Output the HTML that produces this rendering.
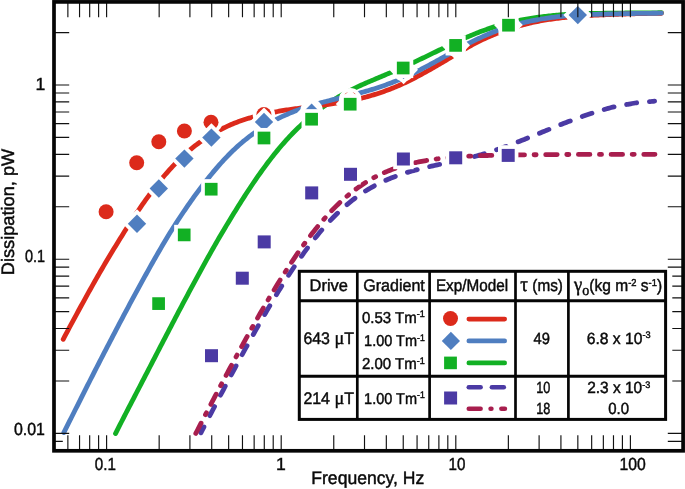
<!DOCTYPE html>
<html><head><meta charset="utf-8"><title>Dissipation vs Frequency</title>
<style>html,body{margin:0;padding:0;background:#fff;}body{width:685px;height:489px;overflow:hidden;position:relative;font-family:"Liberation Sans",sans-serif;}</style>
</head><body>
<svg width="685" height="489" viewBox="0 0 685 489" style="display:block;position:absolute;left:0;top:0;will-change:transform" text-rendering="geometricPrecision" font-family="'Liberation Sans', sans-serif" fill="#0a0a0a" stroke="#0a0a0a" stroke-width="0">
<rect width="685" height="489" fill="#fff"/>
<path d="M115.50,433.55 L117.00,430.59 L118.50,427.65 L120.00,424.71 L121.50,421.78 L123.00,418.85 L124.50,415.94 L126.00,413.02 L127.50,410.12 L129.00,407.22 L130.50,404.32 L132.00,401.43 L133.50,398.54 L135.00,395.65 L136.50,392.76 L138.00,389.88 L139.50,386.99 L141.00,384.10 L142.50,381.22 L143.99,378.33 L145.49,375.44 L146.99,372.54 L148.49,369.64 L149.99,366.74 L151.49,363.83 L152.99,360.93 L154.49,358.03 L155.99,355.13 L157.49,352.23 L158.99,349.34 L160.49,346.45 L161.99,343.55 L163.49,340.67 L164.99,337.78 L166.49,334.90 L167.99,332.02 L169.49,329.15 L170.99,326.28 L172.49,323.41 L173.99,320.55 L175.49,317.69 L176.99,314.84 L178.49,311.99 L179.99,309.15 L181.49,306.31 L182.99,303.48 L184.49,300.65 L185.99,297.83 L187.49,295.02 L188.99,292.21 L190.49,289.41 L191.99,286.62 L193.49,283.83 L194.99,281.06 L196.49,278.29 L197.98,275.53 L199.48,272.78 L200.98,270.04 L202.48,267.30 L203.98,264.58 L205.48,261.87 L206.98,259.17 L208.48,256.48 L209.98,253.80 L211.48,251.13 L212.98,248.49 L214.48,245.86 L215.98,243.24 L217.48,240.65 L218.98,238.07 L220.48,235.50 L221.98,232.95 L223.48,230.42 L224.98,227.90 L226.48,225.39 L227.98,222.90 L229.48,220.42 L230.98,217.95 L232.48,215.50 L233.98,213.06 L235.48,210.64 L236.98,208.22 L238.48,205.82 L239.98,203.43 L241.48,201.06 L242.98,198.70 L244.48,196.36 L245.98,194.04 L247.48,191.75 L248.98,189.47 L250.48,187.21 L251.97,184.97 L253.47,182.76 L254.97,180.56 L256.47,178.39 L257.97,176.24 L259.47,174.11 L260.97,172.00 L262.47,169.92 L263.97,167.85 L265.47,165.81 L266.97,163.80 L268.47,161.81 L269.97,159.84 L271.47,157.90 L272.97,155.98 L274.47,154.09 L275.97,152.22 L277.47,150.39 L278.97,148.58 L280.47,146.79 L281.97,145.04 L283.47,143.31 L284.97,141.61 L286.47,139.94 L287.97,138.30 L289.47,136.68 L290.97,135.09 L292.47,133.53 L293.97,132.00 L295.47,130.49 L296.97,129.01 L298.47,127.56 L299.97,126.14 L301.47,124.74 L302.97,123.36 L304.47,122.00 L305.97,120.67 L307.46,119.35 L308.96,118.06 L310.46,116.78 L311.96,115.53 L313.46,114.30 L314.96,113.10 L316.46,111.91 L317.96,110.75 L319.46,109.61 L320.96,108.49 L322.46,107.39 L323.96,106.32 L325.46,105.27 L326.96,104.24 L328.46,103.23 L329.96,102.25 L331.46,101.28 L332.96,100.33 L334.46,99.39 L335.96,98.47 L337.46,97.56 L338.96,96.67 L340.46,95.79 L341.96,94.92 L343.46,94.07 L344.96,93.24 L346.46,92.42 L347.96,91.61 L349.46,90.83 L350.96,90.05 L352.46,89.29 L353.96,88.55 L355.46,87.82 L356.96,87.10 L358.46,86.40 L359.96,85.72 L361.45,85.05 L362.95,84.38 L364.45,83.72 L365.95,83.06 L367.45,82.41 L368.95,81.77 L370.45,81.13 L371.95,80.49 L373.45,79.85 L374.95,79.22 L376.45,78.58 L377.95,77.95 L379.45,77.32 L380.95,76.69 L382.45,76.06 L383.95,75.43 L385.45,74.80 L386.95,74.16 L388.45,73.53 L389.95,72.89 L391.45,72.25 L392.95,71.61 L394.45,70.97 L395.95,70.32 L397.45,69.67 L398.95,69.02 L400.45,68.36 L401.95,67.70 L403.45,67.03 L404.95,66.36 L406.45,65.69 L407.95,65.01 L409.45,64.33 L410.95,63.65 L412.45,62.96 L413.95,62.26 L415.45,61.57 L416.94,60.87 L418.44,60.16 L419.94,59.45 L421.44,58.74 L422.94,58.03 L424.44,57.31 L425.94,56.59 L427.44,55.86 L428.94,55.14 L430.44,54.41 L431.94,53.68 L433.44,52.95 L434.94,52.22 L436.44,51.49 L437.94,50.76 L439.44,50.03 L440.94,49.30 L442.44,48.57 L443.94,47.84 L445.44,47.12 L446.94,46.39 L448.44,45.67 L449.94,44.95 L451.44,44.24 L452.94,43.53 L454.44,42.82 L455.94,42.12 L457.44,41.43 L458.94,40.74 L460.44,40.05 L461.94,39.38 L463.44,38.71 L464.94,38.04 L466.44,37.39 L467.94,36.74 L469.44,36.10 L470.93,35.47 L472.43,34.84 L473.93,34.23 L475.43,33.62 L476.93,33.03 L478.43,32.44 L479.93,31.86 L481.43,31.30 L482.93,30.74 L484.43,30.19 L485.93,29.66 L487.43,29.13 L488.93,28.62 L490.43,28.11 L491.93,27.62 L493.43,27.13 L494.93,26.66 L496.43,26.20 L497.93,25.75 L499.43,25.31 L500.93,24.88 L502.43,24.46 L503.93,24.05 L505.43,23.65 L506.93,23.26 L508.43,22.88 L509.93,22.51 L511.43,22.15 L512.93,21.80 L514.43,21.46 L515.93,21.13 L517.43,20.81 L518.93,20.50 L520.43,20.20 L521.93,19.90 L523.43,19.62 L524.92,19.34 L526.42,19.07 L527.92,18.81 L529.42,18.56 L530.92,18.32 L532.42,18.08 L533.92,17.85 L535.42,17.63 L536.92,17.41 L538.42,17.21 L539.92,17.01 L541.42,16.81 L542.92,16.62 L544.42,16.44 L545.92,16.27 L547.42,16.10 L548.92,15.93 L550.42,15.77 L551.92,15.62 L553.42,15.47 L554.92,15.33 L556.42,15.19 L557.92,15.06 L559.42,14.93 L560.92,14.81 L562.42,14.69 L563.92,14.58 L565.42,14.48 L566.92,14.38 L568.42,14.29 L569.92,14.20 L571.42,14.12 L572.92,14.05 L574.42,13.98 L575.92,13.91 L577.42,13.85 L578.92,13.79 L580.41,13.74 L581.91,13.69 L583.41,13.65 L584.91,13.60 L586.41,13.56 L587.91,13.53 L589.41,13.49 L590.91,13.46 L592.41,13.44 L593.91,13.41 L595.41,13.38 L596.91,13.36 L598.41,13.34 L599.91,13.32 L601.41,13.30 L602.91,13.28 L604.41,13.26 L605.91,13.25 L607.41,13.23 L608.91,13.21 L610.41,13.20 L611.91,13.18 L613.41,13.17 L614.91,13.15 L616.41,13.13 L617.91,13.11 L619.41,13.09 L620.91,13.07 L622.41,13.05 L623.91,13.03 L625.41,13.01 L626.91,12.99 L628.41,12.98 L629.91,12.96 L631.41,12.95 L632.91,12.93 L634.40,12.92 L635.90,12.91 L637.40,12.89 L638.90,12.88 L640.40,12.87 L641.90,12.86 L643.40,12.85 L644.90,12.84 L646.40,12.83 L647.90,12.82 L649.40,12.82 L650.90,12.81 L652.40,12.80 L653.90,12.79 L655.40,12.79 L656.90,12.78 L658.40,12.77 L659.90,12.77 L661.40,12.76" fill="none" stroke="#12b024" stroke-width="4.8" stroke-linecap="round" stroke-linejoin="round" />
<path d="M63.20,339.27 L64.70,336.42 L66.20,333.59 L67.70,330.77 L69.20,327.96 L70.70,325.16 L72.20,322.37 L73.69,319.58 L75.19,316.80 L76.69,314.03 L78.19,311.27 L79.69,308.52 L81.19,305.77 L82.69,303.03 L84.19,300.30 L85.69,297.58 L87.19,294.88 L88.69,292.18 L90.19,289.49 L91.69,286.82 L93.18,284.15 L94.68,281.50 L96.18,278.86 L97.68,276.23 L99.18,273.61 L100.68,271.01 L102.18,268.43 L103.68,265.87 L105.18,263.32 L106.68,260.79 L108.18,258.28 L109.68,255.78 L111.18,253.30 L112.68,250.82 L114.17,248.36 L115.67,245.90 L117.17,243.45 L118.67,241.00 L120.17,238.56 L121.67,236.14 L123.17,233.73 L124.67,231.34 L126.17,228.96 L127.67,226.61 L129.17,224.28 L130.67,221.97 L132.17,219.68 L133.66,217.41 L135.16,215.16 L136.66,212.94 L138.16,210.73 L139.66,208.55 L141.16,206.37 L142.66,204.22 L144.16,202.08 L145.66,199.97 L147.16,197.88 L148.66,195.81 L150.16,193.76 L151.66,191.74 L153.15,189.74 L154.65,187.77 L156.15,185.83 L157.65,183.92 L159.15,182.04 L160.65,180.19 L162.15,178.37 L163.65,176.57 L165.15,174.81 L166.65,173.07 L168.15,171.36 L169.65,169.68 L171.15,168.02 L172.65,166.40 L174.14,164.81 L175.64,163.25 L177.14,161.71 L178.64,160.21 L180.14,158.74 L181.64,157.30 L183.14,155.89 L184.64,154.51 L186.14,153.16 L187.64,151.85 L189.14,150.56 L190.64,149.30 L192.14,148.08 L193.63,146.88 L195.13,145.71 L196.63,144.57 L198.13,143.46 L199.63,142.37 L201.13,141.31 L202.63,140.27 L204.13,139.26 L205.63,138.27 L207.13,137.31 L208.63,136.37 L210.13,135.45 L211.63,134.55 L213.12,133.67 L214.62,132.81 L216.12,131.97 L217.62,131.14 L219.12,130.33 L220.62,129.54 L222.12,128.77 L223.62,128.02 L225.12,127.29 L226.62,126.57 L228.12,125.88 L229.62,125.21 L231.12,124.56 L232.62,123.93 L234.11,123.31 L235.61,122.72 L237.11,122.15 L238.61,121.60 L240.11,121.06 L241.61,120.53 L243.11,120.02 L244.61,119.53 L246.11,119.05 L247.61,118.58 L249.11,118.13 L250.61,117.69 L252.11,117.27 L253.60,116.85 L255.10,116.45 L256.60,116.06 L258.10,115.68 L259.60,115.31 L261.10,114.95 L262.60,114.60 L264.10,114.25 L265.60,113.92 L267.10,113.59 L268.60,113.26 L270.10,112.95 L271.60,112.64 L273.09,112.34 L274.59,112.05 L276.09,111.77 L277.59,111.49 L279.09,111.22 L280.59,110.96 L282.09,110.70 L283.59,110.46 L285.09,110.22 L286.59,109.99 L288.09,109.77 L289.59,109.56 L291.09,109.35 L292.58,109.15 L294.08,108.95 L295.58,108.75 L297.08,108.55 L298.58,108.35 L300.08,108.16 L301.58,107.97 L303.08,107.77 L304.58,107.58 L306.08,107.39 L307.58,107.20 L309.08,107.01 L310.58,106.81 L312.08,106.62 L313.57,106.43 L315.07,106.23 L316.57,106.03 L318.07,105.84 L319.57,105.63 L321.07,105.43 L322.57,105.23 L324.07,105.02 L325.57,104.81 L327.07,104.59 L328.57,104.37 L330.07,104.15 L331.57,103.92 L333.06,103.69 L334.56,103.46 L336.06,103.22 L337.56,102.97 L339.06,102.72 L340.56,102.46 L342.06,102.20 L343.56,101.93 L345.06,101.66 L346.56,101.37 L348.06,101.09 L349.56,100.79 L351.06,100.49 L352.55,100.17 L354.05,99.85 L355.55,99.53 L357.05,99.19 L358.55,98.84 L360.05,98.49 L361.55,98.13 L363.05,97.75 L364.55,97.37 L366.05,96.98 L367.55,96.57 L369.05,96.16 L370.55,95.73 L372.05,95.30 L373.54,94.85 L375.04,94.39 L376.54,93.93 L378.04,93.45 L379.54,92.95 L381.04,92.45 L382.54,91.93 L384.04,91.40 L385.54,90.86 L387.04,90.31 L388.54,89.74 L390.04,89.17 L391.54,88.58 L393.03,87.97 L394.53,87.36 L396.03,86.73 L397.53,86.09 L399.03,85.44 L400.53,84.78 L402.03,84.10 L403.53,83.41 L405.03,82.71 L406.53,82.00 L408.03,81.28 L409.53,80.55 L411.03,79.80 L412.52,79.05 L414.02,78.28 L415.52,77.51 L417.02,76.72 L418.52,75.93 L420.02,75.12 L421.52,74.31 L423.02,73.50 L424.52,72.67 L426.02,71.84 L427.52,71.00 L429.02,70.15 L430.52,69.30 L432.02,68.44 L433.51,67.58 L435.01,66.72 L436.51,65.85 L438.01,64.98 L439.51,64.11 L441.01,63.24 L442.51,62.36 L444.01,61.47 L445.51,60.57 L447.01,59.67 L448.51,58.77 L450.01,57.86 L451.51,56.96 L453.00,56.05 L454.50,55.14 L456.00,54.24 L457.50,53.34 L459.00,52.44 L460.50,51.55 L462.00,50.66 L463.50,49.79 L465.00,48.92 L466.50,48.06 L468.00,47.21 L469.50,46.37 L471.00,45.54 L472.49,44.73 L473.99,43.93 L475.49,43.14 L476.99,42.37 L478.49,41.62 L479.99,40.88 L481.49,40.16 L482.99,39.45 L484.49,38.75 L485.99,38.06 L487.49,37.38 L488.99,36.72 L490.49,36.06 L491.98,35.42 L493.48,34.80 L494.98,34.18 L496.48,33.58 L497.98,32.98 L499.48,32.41 L500.98,31.84 L502.48,31.28 L503.98,30.74 L505.48,30.21 L506.98,29.69 L508.48,29.18 L509.98,28.68 L511.48,28.20 L512.97,27.72 L514.47,27.26 L515.97,26.81 L517.47,26.37 L518.97,25.94 L520.47,25.52 L521.97,25.11 L523.47,24.71 L524.97,24.32 L526.47,23.94 L527.97,23.57 L529.47,23.21 L530.97,22.86 L532.46,22.52 L533.96,22.19 L535.46,21.88 L536.96,21.58 L538.46,21.28 L539.96,21.00 L541.46,20.72 L542.96,20.46 L544.46,20.21 L545.96,19.96 L547.46,19.72 L548.96,19.49 L550.46,19.27 L551.95,19.05 L553.45,18.85 L554.95,18.65 L556.45,18.45 L557.95,18.27 L559.45,18.08 L560.95,17.91 L562.45,17.73 L563.95,17.57 L565.45,17.41 L566.95,17.25 L568.45,17.10 L569.95,16.95 L571.45,16.80 L572.94,16.66 L574.44,16.53 L575.94,16.40 L577.44,16.28 L578.94,16.16 L580.44,16.04 L581.94,15.94 L583.44,15.83 L584.94,15.73 L586.44,15.64 L587.94,15.54 L589.44,15.45 L590.94,15.37 L592.43,15.29 L593.93,15.21 L595.43,15.13 L596.93,15.06 L598.43,14.99 L599.93,14.92 L601.43,14.86 L602.93,14.80 L604.43,14.73 L605.93,14.67 L607.43,14.62 L608.93,14.56 L610.43,14.50 L611.92,14.45 L613.42,14.39 L614.92,14.34 L616.42,14.29 L617.92,14.23 L619.42,14.18 L620.92,14.13 L622.42,14.08 L623.92,14.03 L625.42,13.98 L626.92,13.94 L628.42,13.90 L629.92,13.85 L631.42,13.81 L632.91,13.78 L634.41,13.74 L635.91,13.70 L637.41,13.67 L638.91,13.64 L640.41,13.60 L641.91,13.57 L643.41,13.55 L644.91,13.52 L646.41,13.49 L647.91,13.46 L649.41,13.44 L650.91,13.41 L652.40,13.39 L653.90,13.37 L655.40,13.35 L656.90,13.33 L658.40,13.31 L659.90,13.29 L661.40,13.27" fill="none" stroke="#dc2a1b" stroke-width="4.8" stroke-linecap="round" stroke-linejoin="round" />
<path d="M63.80,432.55 L65.30,429.60 L66.80,426.64 L68.29,423.67 L69.79,420.70 L71.29,417.73 L72.79,414.75 L74.28,411.77 L75.78,408.79 L77.28,405.80 L78.78,402.82 L80.28,399.84 L81.77,396.85 L83.27,393.87 L84.77,390.89 L86.27,387.92 L87.76,384.94 L89.26,381.98 L90.76,379.01 L92.26,376.06 L93.75,373.11 L95.25,370.17 L96.75,367.24 L98.25,364.31 L99.75,361.40 L101.24,358.49 L102.74,355.59 L104.24,352.69 L105.74,349.80 L107.23,346.91 L108.73,344.03 L110.23,341.15 L111.73,338.27 L113.23,335.40 L114.72,332.54 L116.22,329.68 L117.72,326.83 L119.22,323.98 L120.71,321.14 L122.21,318.30 L123.71,315.47 L125.21,312.65 L126.71,309.83 L128.20,307.03 L129.70,304.22 L131.20,301.43 L132.70,298.65 L134.19,295.87 L135.69,293.10 L137.19,290.34 L138.69,287.59 L140.18,284.85 L141.68,282.11 L143.18,279.39 L144.68,276.68 L146.18,273.98 L147.67,271.29 L149.17,268.61 L150.67,265.94 L152.17,263.28 L153.66,260.64 L155.16,258.01 L156.66,255.39 L158.16,252.78 L159.66,250.19 L161.15,247.62 L162.65,245.05 L164.15,242.51 L165.65,239.98 L167.14,237.48 L168.64,235.01 L170.14,232.57 L171.64,230.16 L173.14,227.78 L174.63,225.42 L176.13,223.09 L177.63,220.78 L179.13,218.50 L180.62,216.24 L182.12,214.00 L183.62,211.77 L185.12,209.57 L186.62,207.38 L188.11,205.21 L189.61,203.05 L191.11,200.90 L192.61,198.79 L194.10,196.70 L195.60,194.63 L197.10,192.60 L198.60,190.58 L200.09,188.59 L201.59,186.62 L203.09,184.68 L204.59,182.76 L206.09,180.86 L207.58,178.98 L209.08,177.12 L210.58,175.28 L212.08,173.46 L213.57,171.65 L215.07,169.87 L216.57,168.11 L218.07,166.37 L219.57,164.66 L221.06,162.98 L222.56,161.33 L224.06,159.71 L225.56,158.12 L227.05,156.55 L228.55,155.01 L230.05,153.51 L231.55,152.03 L233.05,150.58 L234.54,149.15 L236.04,147.76 L237.54,146.39 L239.04,145.06 L240.53,143.75 L242.03,142.47 L243.53,141.21 L245.03,139.99 L246.52,138.79 L248.02,137.62 L249.52,136.47 L251.02,135.35 L252.52,134.25 L254.01,133.17 L255.51,132.10 L257.01,131.06 L258.51,130.04 L260.00,129.04 L261.50,128.05 L263.00,127.09 L264.50,126.15 L266.00,125.23 L267.49,124.33 L268.99,123.45 L270.49,122.59 L271.99,121.75 L273.48,120.93 L274.98,120.13 L276.48,119.35 L277.98,118.60 L279.48,117.86 L280.97,117.14 L282.47,116.44 L283.97,115.76 L285.47,115.08 L286.96,114.43 L288.46,113.78 L289.96,113.15 L291.46,112.54 L292.95,111.93 L294.45,111.35 L295.95,110.77 L297.45,110.21 L298.95,109.66 L300.44,109.12 L301.94,108.59 L303.44,108.08 L304.94,107.58 L306.43,107.09 L307.93,106.61 L309.43,106.15 L310.93,105.69 L312.43,105.25 L313.92,104.80 L315.42,104.37 L316.92,103.94 L318.42,103.52 L319.91,103.10 L321.41,102.69 L322.91,102.28 L324.41,101.88 L325.91,101.48 L327.40,101.09 L328.90,100.70 L330.40,100.32 L331.90,99.94 L333.39,99.56 L334.89,99.19 L336.39,98.82 L337.89,98.46 L339.38,98.10 L340.88,97.74 L342.38,97.38 L343.88,97.02 L345.38,96.66 L346.87,96.29 L348.37,95.92 L349.87,95.55 L351.37,95.18 L352.86,94.80 L354.36,94.42 L355.86,94.03 L357.36,93.64 L358.86,93.25 L360.35,92.84 L361.85,92.44 L363.35,92.02 L364.85,91.60 L366.34,91.18 L367.84,90.74 L369.34,90.30 L370.84,89.86 L372.34,89.40 L373.83,88.94 L375.33,88.46 L376.83,87.98 L378.33,87.49 L379.82,87.00 L381.32,86.49 L382.82,85.97 L384.32,85.44 L385.82,84.91 L387.31,84.36 L388.81,83.81 L390.31,83.24 L391.81,82.66 L393.30,82.08 L394.80,81.48 L396.30,80.87 L397.80,80.26 L399.29,79.63 L400.79,78.99 L402.29,78.34 L403.79,77.68 L405.29,77.01 L406.78,76.33 L408.28,75.64 L409.78,74.94 L411.28,74.23 L412.77,73.51 L414.27,72.78 L415.77,72.05 L417.27,71.30 L418.77,70.54 L420.26,69.78 L421.76,69.01 L423.26,68.23 L424.76,67.44 L426.25,66.65 L427.75,65.85 L429.25,65.05 L430.75,64.23 L432.25,63.42 L433.74,62.60 L435.24,61.77 L436.74,60.94 L438.24,60.11 L439.73,59.28 L441.23,58.44 L442.73,57.60 L444.23,56.77 L445.72,55.93 L447.22,55.09 L448.72,54.25 L450.22,53.42 L451.72,52.58 L453.21,51.75 L454.71,50.92 L456.21,50.10 L457.71,49.28 L459.20,48.46 L460.70,47.65 L462.20,46.84 L463.70,46.04 L465.20,45.25 L466.69,44.47 L468.19,43.69 L469.69,42.92 L471.19,42.16 L472.68,41.41 L474.18,40.67 L475.68,39.93 L477.18,39.21 L478.68,38.50 L480.17,37.80 L481.67,37.10 L483.17,36.42 L484.67,35.75 L486.16,35.10 L487.66,34.45 L489.16,33.82 L490.66,33.20 L492.15,32.59 L493.65,31.99 L495.15,31.40 L496.65,30.83 L498.15,30.27 L499.64,29.72 L501.14,29.18 L502.64,28.66 L504.14,28.15 L505.63,27.65 L507.13,27.16 L508.63,26.69 L510.13,26.22 L511.63,25.77 L513.12,25.33 L514.62,24.91 L516.12,24.49 L517.62,24.08 L519.11,23.69 L520.61,23.31 L522.11,22.93 L523.61,22.57 L525.11,22.22 L526.60,21.88 L528.10,21.55 L529.60,21.23 L531.10,20.92 L532.59,20.62 L534.09,20.32 L535.59,20.04 L537.09,19.77 L538.58,19.50 L540.08,19.24 L541.58,18.99 L543.08,18.75 L544.58,18.52 L546.07,18.29 L547.57,18.08 L549.07,17.87 L550.57,17.66 L552.06,17.46 L553.56,17.27 L555.06,17.09 L556.56,16.91 L558.06,16.74 L559.55,16.57 L561.05,16.42 L562.55,16.26 L564.05,16.12 L565.54,15.98 L567.04,15.85 L568.54,15.73 L570.04,15.61 L571.54,15.49 L573.03,15.39 L574.53,15.29 L576.03,15.19 L577.53,15.10 L579.02,15.01 L580.52,14.93 L582.02,14.86 L583.52,14.78 L585.02,14.71 L586.51,14.65 L588.01,14.59 L589.51,14.53 L591.01,14.47 L592.50,14.42 L594.00,14.37 L595.50,14.32 L597.00,14.28 L598.49,14.23 L599.99,14.19 L601.49,14.15 L602.99,14.12 L604.49,14.08 L605.98,14.04 L607.48,14.01 L608.98,13.98 L610.48,13.94 L611.97,13.91 L613.47,13.88 L614.97,13.85 L616.47,13.81 L617.97,13.78 L619.46,13.75 L620.96,13.72 L622.46,13.69 L623.96,13.66 L625.45,13.63 L626.95,13.60 L628.45,13.57 L629.95,13.55 L631.45,13.52 L632.94,13.50 L634.44,13.48 L635.94,13.46 L637.44,13.44 L638.93,13.42 L640.43,13.40 L641.93,13.38 L643.43,13.36 L644.92,13.34 L646.42,13.33 L647.92,13.31 L649.42,13.30 L650.92,13.28 L652.41,13.27 L653.91,13.26 L655.41,13.24 L656.91,13.23 L658.40,13.22 L659.90,13.21 L661.40,13.20" fill="none" stroke="#4f7ec0" stroke-width="4.8" stroke-linecap="round" stroke-linejoin="round" />
<path d="M200.90,432.86 L202.40,429.96 L203.89,427.07 L205.39,424.17 L206.89,421.28 L208.39,418.39 L209.88,415.51 L211.38,412.63 L212.88,409.76 L214.38,406.89 L215.87,404.02 L217.37,401.16 L218.87,398.30 L220.37,395.45 L221.86,392.61 L223.36,389.77 L224.86,386.93 L226.36,384.10 L227.85,381.28 L229.35,378.46 L230.85,375.65 L232.34,372.85 L233.84,370.05 L235.34,367.27 L236.84,364.48 L238.33,361.71 L239.83,358.94 L241.33,356.19 L242.83,353.44 L244.32,350.70 L245.82,347.96 L247.32,345.24 L248.82,342.53 L250.31,339.83 L251.81,337.14 L253.31,334.46 L254.80,331.79 L256.30,329.13 L257.80,326.48 L259.30,323.84 L260.79,321.22 L262.29,318.61 L263.79,316.02 L265.29,313.43 L266.78,310.86 L268.28,308.31 L269.78,305.77 L271.28,303.25 L272.77,300.74 L274.27,298.24 L275.77,295.77 L277.27,293.31 L278.76,290.87 L280.26,288.44 L281.76,286.04 L283.25,283.65 L284.75,281.28 L286.25,278.93 L287.75,276.61 L289.24,274.30 L290.74,272.01 L292.24,269.75 L293.74,267.50 L295.23,265.28 L296.73,263.08 L298.23,260.91 L299.73,258.75 L301.22,256.62 L302.72,254.52 L304.22,252.44 L305.72,250.39 L307.21,248.36 L308.71,246.35 L310.21,244.38 L311.70,242.42 L313.20,240.50 L314.70,238.60 L316.20,236.73 L317.69,234.89 L319.19,233.08 L320.69,231.29 L322.19,229.53 L323.68,227.80 L325.18,226.10 L326.68,224.43 L328.18,222.78 L329.67,221.17 L331.17,219.58 L332.67,218.03 L334.17,216.50 L335.66,215.00 L337.16,213.53 L338.66,212.09 L340.15,210.68 L341.65,209.29 L343.15,207.94 L344.65,206.62 L346.14,205.32 L347.64,204.05 L349.14,202.81 L350.64,201.60 L352.13,200.41 L353.63,199.25 L355.13,198.12 L356.63,197.02 L358.12,195.94 L359.62,194.89 L361.12,193.86 L362.61,192.86 L364.11,191.88 L365.61,190.93 L367.11,190.00 L368.60,189.10 L370.10,188.22 L371.60,187.36 L373.10,186.53 L374.59,185.71 L376.09,184.92 L377.59,184.15 L379.09,183.40 L380.58,182.67 L382.08,181.96 L383.58,181.27 L385.08,180.59 L386.57,179.94 L388.07,179.30 L389.57,178.68 L391.06,178.07 L392.56,177.48 L394.06,176.91 L395.56,176.35 L397.05,175.81 L398.55,175.28 L400.05,174.76 L401.55,174.25 L403.04,173.76 L404.54,173.28 L406.04,172.82 L407.54,172.36 L409.03,171.91 L410.53,171.48 L412.03,171.05 L413.53,170.63 L415.02,170.22 L416.52,169.82 L418.02,169.43 L419.51,169.04 L421.01,168.66 L422.51,168.29 L424.01,167.93 L425.50,167.57 L427.00,167.21 L428.50,166.86 L430.00,166.51 L431.49,166.17 L432.99,165.83 L434.49,165.50 L435.99,165.16 L437.48,164.83 L438.98,164.51 L440.48,164.18 L441.97,163.86 L443.47,163.53 L444.97,163.21 L446.47,162.89 L447.96,162.56 L449.46,162.24 L450.96,161.92 L452.46,161.59 L453.95,161.26 L455.45,160.94 L456.95,160.61 L458.45,160.28 L459.94,159.94 L461.44,159.60 L462.94,159.26 L464.44,158.92 L465.93,158.58 L467.43,158.23 L468.93,157.87 L470.42,157.51 L471.92,157.15 L473.42,156.77 L474.92,156.38 L476.41,155.99 L477.91,155.58 L479.41,155.17 L480.91,154.75 L482.40,154.31 L483.90,153.87 L485.40,153.42 L486.90,152.96 L488.39,152.50 L489.89,152.02 L491.39,151.54 L492.89,151.05 L494.38,150.55 L495.88,150.04 L497.38,149.53 L498.87,149.01 L500.37,148.48 L501.87,147.94 L503.37,147.40 L504.86,146.86 L506.36,146.31 L507.86,145.75 L509.36,145.19 L510.85,144.63 L512.35,144.06 L513.85,143.48 L515.35,142.91 L516.84,142.33 L518.34,141.75 L519.84,141.17 L521.33,140.59 L522.83,140.00 L524.33,139.40 L525.83,138.81 L527.32,138.21 L528.82,137.60 L530.32,137.00 L531.82,136.39 L533.31,135.78 L534.81,135.16 L536.31,134.55 L537.81,133.93 L539.30,133.32 L540.80,132.70 L542.30,132.08 L543.80,131.47 L545.29,130.85 L546.79,130.23 L548.29,129.62 L549.78,129.01 L551.28,128.39 L552.78,127.78 L554.28,127.18 L555.77,126.57 L557.27,125.97 L558.77,125.37 L560.27,124.78 L561.76,124.18 L563.26,123.59 L564.76,123.01 L566.26,122.43 L567.75,121.85 L569.25,121.28 L570.75,120.71 L572.25,120.15 L573.74,119.59 L575.24,119.04 L576.74,118.49 L578.23,117.94 L579.73,117.40 L581.23,116.86 L582.73,116.33 L584.22,115.81 L585.72,115.29 L587.22,114.79 L588.72,114.30 L590.21,113.81 L591.71,113.33 L593.21,112.85 L594.71,112.38 L596.20,111.91 L597.70,111.45 L599.20,111.00 L600.70,110.54 L602.19,110.10 L603.69,109.66 L605.19,109.22 L606.68,108.79 L608.18,108.36 L609.68,107.94 L611.18,107.54 L612.67,107.17 L614.17,106.83 L615.67,106.50 L617.17,106.19 L618.66,105.89 L620.16,105.61 L621.66,105.34 L623.16,105.07 L624.65,104.81 L626.15,104.56 L627.65,104.30 L629.14,104.04 L630.64,103.78 L632.14,103.51 L633.64,103.25 L635.13,103.00 L636.63,102.76 L638.13,102.53 L639.63,102.31 L641.12,102.13 L642.62,101.99 L644.12,101.88 L645.62,101.80 L647.11,101.73 L648.61,101.65 L650.11,101.57 L651.61,101.46 L653.10,101.31 L654.60,101.11" fill="none" stroke="#4b3aa4" stroke-width="4.8" stroke-linecap="round" stroke-linejoin="round" stroke-dasharray="10.2 12.8" stroke-dashoffset="3.6"/>
<path d="M195.80,433.40 L197.30,430.50 L198.79,427.60 L200.29,424.70 L201.78,421.81 L203.28,418.92 L204.77,416.04 L206.27,413.16 L207.77,410.28 L209.26,407.40 L210.76,404.54 L212.25,401.67 L213.75,398.81 L215.24,395.95 L216.74,393.10 L218.24,390.26 L219.73,387.42 L221.23,384.58 L222.72,381.75 L224.22,378.93 L225.72,376.11 L227.21,373.30 L228.71,370.50 L230.20,367.70 L231.70,364.91 L233.19,362.13 L234.69,359.35 L236.19,356.58 L237.68,353.82 L239.18,351.07 L240.67,348.32 L242.17,345.59 L243.66,342.86 L245.16,340.14 L246.66,337.43 L248.15,334.73 L249.65,332.05 L251.14,329.37 L252.64,326.70 L254.13,324.05 L255.63,321.40 L257.13,318.77 L258.62,316.15 L260.12,313.54 L261.61,310.94 L263.11,308.36 L264.61,305.79 L266.10,303.24 L267.60,300.70 L269.09,298.17 L270.59,295.66 L272.08,293.16 L273.58,290.68 L275.08,288.22 L276.57,285.77 L278.07,283.34 L279.56,280.93 L281.06,278.53 L282.55,276.16 L284.05,273.80 L285.55,271.46 L287.04,269.14 L288.54,266.84 L290.03,264.56 L291.53,262.30 L293.02,260.06 L294.52,257.85 L296.02,255.65 L297.51,253.48 L299.01,251.33 L300.50,249.20 L302.00,247.10 L303.50,245.02 L304.99,242.96 L306.49,240.93 L307.98,238.93 L309.48,236.95 L310.97,234.99 L312.47,233.06 L313.97,231.16 L315.46,229.28 L316.96,227.43 L318.45,225.61 L319.95,223.81 L321.44,222.04 L322.94,220.30 L324.44,218.59 L325.93,216.90 L327.43,215.25 L328.92,213.62 L330.42,212.02 L331.91,210.45 L333.41,208.90 L334.91,207.39 L336.40,205.90 L337.90,204.44 L339.39,203.01 L340.89,201.61 L342.39,200.24 L343.88,198.90 L345.38,197.58 L346.87,196.30 L348.37,195.04 L349.86,193.81 L351.36,192.60 L352.86,191.43 L354.35,190.28 L355.85,189.16 L357.34,188.07 L358.84,187.00 L360.33,185.96 L361.83,184.94 L363.33,183.95 L364.82,182.99 L366.32,182.05 L367.81,181.14 L369.31,180.25 L370.80,179.39 L372.30,178.55 L373.80,177.73 L375.29,176.93 L376.79,176.16 L378.28,175.41 L379.78,174.68 L381.27,173.97 L382.77,173.29 L384.27,172.62 L385.76,171.97 L387.26,171.35 L388.75,170.74 L390.25,170.15 L391.75,169.58 L393.24,169.03 L394.74,168.49 L396.23,167.97 L397.73,167.47 L399.22,166.99 L400.72,166.52 L402.22,166.06 L403.71,165.62 L405.21,165.20 L406.70,164.79 L408.20,164.39 L409.69,164.00 L411.19,163.63 L412.69,163.27 L414.18,162.93 L415.68,162.59 L417.17,162.27 L418.67,161.96 L420.16,161.66 L421.66,161.37 L423.16,161.09 L424.65,160.82 L426.15,160.55 L427.64,160.30 L429.14,160.06 L430.64,159.82 L432.13,159.60 L433.63,159.38 L435.12,159.17 L436.62,158.97 L438.11,158.77 L439.61,158.58 L441.11,158.40 L442.60,158.23 L444.10,158.06 L445.59,157.90 L447.09,157.74 L448.58,157.59 L450.08,157.45 L451.58,157.31 L453.07,157.17 L454.57,157.05 L456.06,156.93 L457.56,156.82 L459.05,156.71 L460.55,156.61 L462.05,156.51 L463.54,156.42 L465.04,156.33 L466.53,156.25 L468.03,156.17 L469.53,156.10 L471.02,156.03 L472.52,155.96 L474.01,155.90 L475.51,155.84 L477.00,155.78 L478.50,155.73 L480.00,155.68 L481.49,155.64 L482.99,155.59 L484.48,155.55 L485.98,155.51 L487.47,155.48 L488.97,155.44 L490.47,155.41 L491.96,155.38 L493.46,155.35 L494.95,155.32 L496.45,155.29 L497.94,155.27 L499.44,155.24 L500.94,155.22 L502.43,155.20 L503.93,155.17 L505.42,155.15 L506.92,155.13 L508.41,155.11 L509.91,155.09 L511.41,155.07 L512.90,155.05 L514.40,155.02 L515.89,155.00 L517.39,154.98 L518.89,154.96 L520.38,154.93 L521.88,154.91 L523.37,154.89 L524.87,154.87 L526.36,154.85 L527.86,154.83 L529.36,154.81 L530.85,154.79 L532.35,154.77 L533.84,154.76 L535.34,154.74 L536.83,154.73 L538.33,154.71 L539.83,154.70 L541.32,154.68 L542.82,154.67 L544.31,154.66 L545.81,154.65 L547.30,154.63 L548.80,154.62 L550.30,154.61 L551.79,154.60 L553.29,154.59 L554.78,154.58 L556.28,154.57 L557.78,154.56 L559.27,154.55 L560.77,154.55 L562.26,154.54 L563.76,154.53 L565.25,154.52 L566.75,154.52 L568.25,154.51 L569.74,154.50 L571.24,154.50 L572.73,154.49 L574.23,154.49 L575.72,154.48 L577.22,154.47 L578.72,154.47 L580.21,154.46 L581.71,154.46 L583.20,154.46 L584.70,154.45 L586.19,154.45 L587.69,154.44 L589.19,154.44 L590.68,154.44 L592.18,154.43 L593.67,154.43 L595.17,154.42 L596.67,154.42 L598.16,154.42 L599.66,154.42 L601.15,154.41 L602.65,154.41 L604.14,154.41 L605.64,154.40 L607.14,154.40 L608.63,154.40 L610.13,154.40 L611.62,154.40 L613.12,154.39 L614.61,154.39 L616.11,154.39 L617.61,154.39 L619.10,154.39 L620.60,154.38 L622.09,154.38 L623.59,154.38 L625.08,154.38 L626.58,154.38 L628.08,154.38 L629.57,154.38 L631.07,154.37 L632.56,154.37 L634.06,154.37 L635.56,154.37 L637.05,154.37 L638.55,154.37 L640.04,154.37 L641.54,154.37 L643.03,154.37 L644.53,154.36 L646.03,154.36 L647.52,154.36 L649.02,154.36 L650.51,154.36 L652.01,154.36 L653.50,154.36 L655.00,154.36" fill="none" stroke="#a81e4e" stroke-width="4.8" stroke-linecap="round" stroke-linejoin="round" stroke-dasharray="11.5 9.55 2.1 9.55" stroke-dashoffset="0.0"/>
<rect x="201.30" y="345.50" width="20.40" height="20.40" fill="#fff"/>
<rect x="205.00" y="349.20" width="13.00" height="13.00" fill="#4b3aa4"/>
<rect x="232.10" y="268.00" width="20.40" height="20.40" fill="#fff"/>
<rect x="235.80" y="271.70" width="13.00" height="13.00" fill="#4b3aa4"/>
<rect x="254.00" y="231.70" width="20.40" height="20.40" fill="#fff"/>
<rect x="257.70" y="235.40" width="13.00" height="13.00" fill="#4b3aa4"/>
<rect x="301.50" y="182.70" width="20.40" height="20.40" fill="#fff"/>
<rect x="305.20" y="186.40" width="13.00" height="13.00" fill="#4b3aa4"/>
<rect x="340.30" y="164.10" width="20.40" height="20.40" fill="#fff"/>
<rect x="344.00" y="167.80" width="13.00" height="13.00" fill="#4b3aa4"/>
<rect x="393.20" y="148.80" width="20.40" height="20.40" fill="#fff"/>
<rect x="396.90" y="152.50" width="13.00" height="13.00" fill="#4b3aa4"/>
<rect x="445.50" y="147.60" width="20.40" height="20.40" fill="#fff"/>
<rect x="449.20" y="151.30" width="13.00" height="13.00" fill="#4b3aa4"/>
<rect x="498.00" y="145.20" width="20.40" height="20.40" fill="#fff"/>
<rect x="501.70" y="148.90" width="13.00" height="13.00" fill="#4b3aa4"/>
<circle cx="106.10" cy="211.80" r="11.20" fill="#fff"/>
<circle cx="106.10" cy="211.80" r="7.50" fill="#dc2a1b"/>
<circle cx="136.70" cy="162.70" r="11.20" fill="#fff"/>
<circle cx="136.70" cy="162.70" r="7.50" fill="#dc2a1b"/>
<circle cx="158.80" cy="141.80" r="11.20" fill="#fff"/>
<circle cx="158.80" cy="141.80" r="7.50" fill="#dc2a1b"/>
<circle cx="184.40" cy="131.00" r="11.20" fill="#fff"/>
<circle cx="184.40" cy="131.00" r="7.50" fill="#dc2a1b"/>
<circle cx="211.00" cy="122.20" r="11.20" fill="#fff"/>
<circle cx="211.00" cy="122.20" r="7.50" fill="#dc2a1b"/>
<circle cx="263.90" cy="114.60" r="11.20" fill="#fff"/>
<circle cx="263.90" cy="114.60" r="7.50" fill="#dc2a1b"/>
<circle cx="311.60" cy="110.30" r="11.20" fill="#fff"/>
<circle cx="311.60" cy="110.30" r="7.50" fill="#dc2a1b"/>
<circle cx="350.20" cy="99.30" r="11.20" fill="#fff"/>
<circle cx="350.20" cy="99.30" r="7.50" fill="#dc2a1b"/>
<circle cx="403.50" cy="70.00" r="11.20" fill="#fff"/>
<circle cx="403.50" cy="70.00" r="7.50" fill="#dc2a1b"/>
<circle cx="455.70" cy="45.30" r="11.20" fill="#fff"/>
<circle cx="455.70" cy="45.30" r="7.50" fill="#dc2a1b"/>
<circle cx="508.40" cy="25.10" r="11.20" fill="#fff"/>
<circle cx="508.40" cy="25.10" r="7.50" fill="#dc2a1b"/>
<circle cx="577.80" cy="15.10" r="11.20" fill="#fff"/>
<circle cx="577.80" cy="15.10" r="7.50" fill="#dc2a1b"/>
<path d="M137.00,209.37 L151.43,223.80 L137.00,238.23 L122.57,223.80 Z" fill="#fff"/>
<path d="M137.00,214.60 L146.20,223.80 L137.00,233.00 L127.80,223.80 Z" fill="#4f7ec0"/>
<path d="M158.80,174.07 L173.23,188.50 L158.80,202.93 L144.37,188.50 Z" fill="#fff"/>
<path d="M158.80,179.30 L168.00,188.50 L158.80,197.70 L149.60,188.50 Z" fill="#4f7ec0"/>
<path d="M184.40,144.17 L198.83,158.60 L184.40,173.03 L169.97,158.60 Z" fill="#fff"/>
<path d="M184.40,149.40 L193.60,158.60 L184.40,167.80 L175.20,158.60 Z" fill="#4f7ec0"/>
<path d="M211.40,123.17 L225.83,137.60 L211.40,152.03 L196.97,137.60 Z" fill="#fff"/>
<path d="M211.40,128.40 L220.60,137.60 L211.40,146.80 L202.20,137.60 Z" fill="#4f7ec0"/>
<path d="M264.00,107.47 L278.43,121.90 L264.00,136.33 L249.57,121.90 Z" fill="#fff"/>
<path d="M264.00,112.70 L273.20,121.90 L264.00,131.10 L254.80,121.90 Z" fill="#4f7ec0"/>
<path d="M311.60,98.27 L326.03,112.70 L311.60,127.13 L297.17,112.70 Z" fill="#fff"/>
<path d="M311.60,103.50 L320.80,112.70 L311.60,121.90 L302.40,112.70 Z" fill="#4f7ec0"/>
<path d="M350.20,89.57 L364.63,104.00 L350.20,118.43 L335.77,104.00 Z" fill="#fff"/>
<path d="M350.20,94.80 L359.40,104.00 L350.20,113.20 L341.00,104.00 Z" fill="#4f7ec0"/>
<path d="M403.60,55.37 L418.03,69.80 L403.60,84.23 L389.17,69.80 Z" fill="#fff"/>
<path d="M403.60,60.60 L412.80,69.80 L403.60,79.00 L394.40,69.80 Z" fill="#4f7ec0"/>
<path d="M455.60,30.87 L470.03,45.30 L455.60,59.73 L441.17,45.30 Z" fill="#fff"/>
<path d="M455.60,36.10 L464.80,45.30 L455.60,54.50 L446.40,45.30 Z" fill="#4f7ec0"/>
<path d="M508.40,10.67 L522.83,25.10 L508.40,39.53 L493.97,25.10 Z" fill="#fff"/>
<path d="M508.40,15.90 L517.60,25.10 L508.40,34.30 L499.20,25.10 Z" fill="#4f7ec0"/>
<path d="M577.80,0.67 L592.23,15.10 L577.80,29.53 L563.37,15.10 Z" fill="#fff"/>
<path d="M577.80,5.90 L587.00,15.10 L577.80,24.30 L568.60,15.10 Z" fill="#4f7ec0"/>
<rect x="148.55" y="293.55" width="20.10" height="20.10" fill="#fff"/>
<rect x="152.25" y="297.25" width="12.70" height="12.70" fill="#12b024"/>
<rect x="174.15" y="224.85" width="20.10" height="20.10" fill="#fff"/>
<rect x="177.85" y="228.55" width="12.70" height="12.70" fill="#12b024"/>
<rect x="201.15" y="179.15" width="20.10" height="20.10" fill="#fff"/>
<rect x="204.85" y="182.85" width="12.70" height="12.70" fill="#12b024"/>
<rect x="253.95" y="127.95" width="20.10" height="20.10" fill="#fff"/>
<rect x="257.65" y="131.65" width="12.70" height="12.70" fill="#12b024"/>
<rect x="301.55" y="109.15" width="20.10" height="20.10" fill="#fff"/>
<rect x="305.25" y="112.85" width="12.70" height="12.70" fill="#12b024"/>
<rect x="340.15" y="94.15" width="20.10" height="20.10" fill="#fff"/>
<rect x="343.85" y="97.85" width="12.70" height="12.70" fill="#12b024"/>
<rect x="393.15" y="57.95" width="20.10" height="20.10" fill="#fff"/>
<rect x="396.85" y="61.65" width="12.70" height="12.70" fill="#12b024"/>
<rect x="445.55" y="35.35" width="20.10" height="20.10" fill="#fff"/>
<rect x="449.25" y="39.05" width="12.70" height="12.70" fill="#12b024"/>
<rect x="498.45" y="15.15" width="20.10" height="20.10" fill="#fff"/>
<rect x="502.15" y="18.85" width="12.70" height="12.70" fill="#12b024"/>
<rect x="298" y="270" width="374" height="151" fill="#fff"/>
<path d="M67.87,3.00 V17.20 M67.87,435.20 V450.00 M79.55,3.00 V17.20 M79.55,435.20 V450.00 M89.68,3.00 V17.20 M89.68,435.20 V450.00 M98.61,3.00 V17.20 M98.61,435.20 V450.00 M106.60,3.00 V17.20 M106.60,435.20 V450.00 M159.16,3.00 V17.20 M159.16,435.20 V450.00 M189.91,3.00 V17.20 M189.91,435.20 V450.00 M211.72,3.00 V17.20 M211.72,435.20 V450.00 M228.64,3.00 V17.20 M228.64,435.20 V450.00 M242.47,3.00 V17.20 M242.47,435.20 V450.00 M254.15,3.00 V17.20 M254.15,435.20 V450.00 M264.28,3.00 V17.20 M264.28,435.20 V450.00 M273.21,3.00 V17.20 M273.21,435.20 V450.00 M281.20,3.00 V17.20 M281.20,435.20 V450.00 M333.76,3.00 V17.20 M333.76,435.20 V450.00 M364.51,3.00 V17.20 M364.51,435.20 V450.00 M386.32,3.00 V17.20 M386.32,435.20 V450.00 M403.24,3.00 V17.20 M403.24,435.20 V450.00 M417.07,3.00 V17.20 M417.07,435.20 V450.00 M428.75,3.00 V17.20 M428.75,435.20 V450.00 M438.88,3.00 V17.20 M438.88,435.20 V450.00 M447.81,3.00 V17.20 M447.81,435.20 V450.00 M455.80,3.00 V17.20 M455.80,435.20 V450.00 M508.36,3.00 V17.20 M508.36,435.20 V450.00 M539.11,3.00 V17.20 M539.11,435.20 V450.00 M560.92,3.00 V17.20 M560.92,435.20 V450.00 M577.84,3.00 V17.20 M577.84,435.20 V450.00 M591.67,3.00 V17.20 M591.67,435.20 V450.00 M603.35,3.00 V17.20 M603.35,435.20 V450.00 M613.48,3.00 V17.20 M613.48,435.20 V450.00 M622.41,3.00 V17.20 M622.41,435.20 V450.00 M630.40,3.00 V17.20 M630.40,435.20 V450.00 M55.00,32.56 H69.20 M667.80,32.56 H682.00 M55.00,85.00 H69.20 M667.80,85.00 H682.00 M55.00,92.97 H69.20 M667.80,92.97 H682.00 M55.00,101.88 H69.20 M667.80,101.88 H682.00 M55.00,111.98 H69.20 M667.80,111.98 H682.00 M55.00,123.65 H69.20 M667.80,123.65 H682.00 M55.00,137.44 H69.20 M667.80,137.44 H682.00 M55.00,154.32 H69.20 M667.80,154.32 H682.00 M55.00,176.09 H69.20 M667.80,176.09 H682.00 M55.00,206.76 H69.20 M667.80,206.76 H682.00 M55.00,259.20 H69.20 M667.80,259.20 H682.00 M55.00,267.17 H69.20 M667.80,267.17 H682.00 M55.00,276.08 H69.20 M672.30,276.08 H682.00 M55.00,286.18 H69.20 M672.30,286.18 H682.00 M55.00,297.85 H69.20 M672.30,297.85 H682.00 M55.00,311.64 H69.20 M672.30,311.64 H682.00 M55.00,328.52 H69.20 M672.30,328.52 H682.00 M55.00,350.29 H69.20 M672.30,350.29 H682.00 M55.00,380.96 H69.20 M672.30,380.96 H682.00 M55.00,433.40 H69.20 M667.80,433.40 H682.00 M55.00,441.37 H62.80 M667.80,441.37 H682.00" stroke="#111" stroke-width="1.15" fill="none"/>
<rect x="54" y="1.9" width="629.1" height="448.9" fill="none" stroke="#050505" stroke-width="3.7"/>
<rect x="299.3" y="271.3" width="366.3" height="148.1" fill="none" stroke="#050505" stroke-width="3"/>
<path d="M357.3,271 V419.5" stroke="#050505" stroke-width="2.7"/>
<path d="M429.6,271 V419.5" stroke="#050505" stroke-width="2.7"/>
<path d="M515.5,271 V419.5" stroke="#050505" stroke-width="2.7"/>
<path d="M568.4,271 V419.5" stroke="#050505" stroke-width="2.7"/>
<path d="M299,300.8 H666" stroke="#050505" stroke-width="3"/>
<path d="M299,376.2 H666" stroke="#050505" stroke-width="3"/>
<text x="309.6" y="290.7" font-size="16.7" text-anchor="start" textLength="38.4" lengthAdjust="spacingAndGlyphs" stroke-width="0.45" >Drive</text>
<text x="363.2" y="290.7" font-size="16.7" text-anchor="start" textLength="61.6" lengthAdjust="spacingAndGlyphs" stroke-width="0.45" >Gradient</text>
<text x="435.9" y="290.7" font-size="16.7" text-anchor="start" textLength="72.2" lengthAdjust="spacingAndGlyphs" stroke-width="0.45" >Exp/Model</text>
<text x="520.3" y="290.7" font-size="16.7" text-anchor="start" textLength="42.6" lengthAdjust="spacingAndGlyphs" stroke-width="0.45" ><tspan font-family="'Liberation Serif', serif" font-size="21">τ</tspan> (ms)</text>
<text x="574.1" y="290.7" font-size="16.7" text-anchor="start" textLength="88.0" lengthAdjust="spacingAndGlyphs" stroke-width="0.45" ><tspan font-family="'Liberation Serif', serif" font-size="20">γ</tspan><tspan font-family="'Liberation Serif', serif" font-size="15" dy="4.2">o</tspan><tspan dy="-4.2">(kg m</tspan><tspan font-size="10" dy="-5">-2</tspan><tspan dy="5"> s</tspan><tspan font-size="10" dy="-5">-1</tspan><tspan dy="5">)</tspan></text>
<text x="303.4" y="343.5" font-size="16.7" text-anchor="start" textLength="50.5" lengthAdjust="spacingAndGlyphs" stroke-width="0.45" >643 <tspan font-family="'Liberation Serif', serif" font-size="19">μ</tspan>T</text>
<text x="303.4" y="403.7" font-size="16.7" text-anchor="start" textLength="50.5" lengthAdjust="spacingAndGlyphs" stroke-width="0.45" >214 <tspan font-family="'Liberation Serif', serif" font-size="19">μ</tspan>T</text>
<text x="362.0" y="322.6" font-size="15.8" text-anchor="start" textLength="62.8" lengthAdjust="spacingAndGlyphs" stroke-width="0.45" >0.53 Tm<tspan font-size="9.5" dy="-5.5">-1</tspan></text>
<text x="364.1" y="346.4" font-size="15.8" text-anchor="start" textLength="60.7" lengthAdjust="spacingAndGlyphs" stroke-width="0.45" >1.00 Tm<tspan font-size="9.5" dy="-5.5">-1</tspan></text>
<text x="362.0" y="369.0" font-size="15.8" text-anchor="start" textLength="62.8" lengthAdjust="spacingAndGlyphs" stroke-width="0.45" >2.00 Tm<tspan font-size="9.5" dy="-5.5">-1</tspan></text>
<text x="364.1" y="403.7" font-size="15.8" text-anchor="start" textLength="60.7" lengthAdjust="spacingAndGlyphs" stroke-width="0.45" >1.00 Tm<tspan font-size="9.5" dy="-5.5">-1</tspan></text>
<text x="533.5" y="343.5" font-size="16.2" text-anchor="start" textLength="16.4" lengthAdjust="spacingAndGlyphs" stroke-width="0.45" >49</text>
<text x="536.3" y="392.8" font-size="16.2" text-anchor="start" textLength="14.1" lengthAdjust="spacingAndGlyphs" stroke-width="0.45" >10</text>
<text x="536.3" y="413.6" font-size="16.2" text-anchor="start" textLength="14.1" lengthAdjust="spacingAndGlyphs" stroke-width="0.45" >18</text>
<text x="586.7" y="343.5" font-size="16.2" text-anchor="start" textLength="63.9" lengthAdjust="spacingAndGlyphs" stroke-width="0.45" >6.8 x 10<tspan font-size="9.5" dy="-5.5">-3</tspan></text>
<text x="587.2" y="393.4" font-size="16.2" text-anchor="start" textLength="63.0" lengthAdjust="spacingAndGlyphs" stroke-width="0.45" >2.3 x 10<tspan font-size="9.5" dy="-5.5">-3</tspan></text>
<text x="608.2" y="414.2" font-size="16.2" text-anchor="start" textLength="20.8" lengthAdjust="spacingAndGlyphs" stroke-width="0.45" >0.0</text>
<circle cx="450.5" cy="318.5" r="7.5" fill="#dc2a1b"/>
<path d="M450.9,331.8 L460,340.9 L450.9,350 L441.8,340.9 Z" fill="#4f7ec0"/>
<rect x="444.1" y="356.6" width="12.8" height="12.6" fill="#12b024"/>
<rect x="444.1" y="391.5" width="13" height="13" fill="#4b3aa4"/>
<path d="M468.8,319.1 H504.7" stroke="#dc2a1b" stroke-width="4.6" stroke-linecap="round" fill="none"/>
<path d="M468.8,340.9 H504.7" stroke="#4f7ec0" stroke-width="4.6" stroke-linecap="round" fill="none"/>
<path d="M468.8,362.9 H504.7" stroke="#12b024" stroke-width="4.6" stroke-linecap="round" fill="none"/>
<path d="M468.8,387.2 H480.6" stroke="#4b3aa4" stroke-width="4.6" stroke-linecap="round" fill="none"/>
<path d="M491.9,387.2 H503.8" stroke="#4b3aa4" stroke-width="4.6" stroke-linecap="round" fill="none"/>
<path d="M468.8,408.8 H480.6" stroke="#a81e4e" stroke-width="4.6" stroke-linecap="round" fill="none"/>
<path d="M490.6,408.8 H491.4" stroke="#a81e4e" stroke-width="4.6" stroke-linecap="round" fill="none"/>
<path d="M501.4,408.8 H504.9" stroke="#a81e4e" stroke-width="4.6" stroke-linecap="round" fill="none"/>
<text x="94.8" y="469.5" font-size="17.6" text-anchor="start" textLength="21.1" lengthAdjust="spacingAndGlyphs" stroke-width="0.45" >0.1</text>
<text x="275.9" y="469.5" font-size="17.6" text-anchor="start" stroke-width="0.45" >1</text>
<text x="448.5" y="469.5" font-size="17.6" text-anchor="start" textLength="16.9" lengthAdjust="spacingAndGlyphs" stroke-width="0.45" >10</text>
<text x="619.4" y="469.5" font-size="17.6" text-anchor="start" textLength="26.3" lengthAdjust="spacingAndGlyphs" stroke-width="0.45" >100</text>
<text x="45.2" y="89.8" font-size="17.6" text-anchor="end" stroke-width="0.45" >1</text>
<text x="24.9" y="262.2" font-size="17.6" text-anchor="start" textLength="20.1" lengthAdjust="spacingAndGlyphs" stroke-width="0.45" >0.1</text>
<text x="13.9" y="435.0" font-size="17.6" text-anchor="start" textLength="31.0" lengthAdjust="spacingAndGlyphs" stroke-width="0.45" >0.01</text>
<text x="311.3" y="483.8" font-size="18.0" text-anchor="start" textLength="112.9" lengthAdjust="spacingAndGlyphs" stroke-width="0.45" >Frequency, Hz</text>
<text transform="translate(13.8,275.2) rotate(-90)" font-size="18" stroke-width="0.45" textLength="126.4" lengthAdjust="spacingAndGlyphs">Dissipation, pW</text>
</svg>
</body></html>
